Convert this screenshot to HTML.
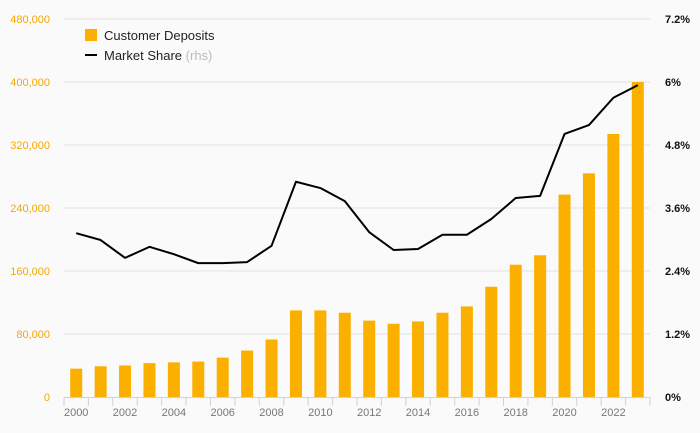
<!DOCTYPE html>
<html><head><meta charset="utf-8"><style>
body{margin:0;background:#fafafa;}
svg{display:block;font-family:"Liberation Sans",sans-serif;}
</style></head><body>
<svg id="chart" width="700" height="433">
<rect width="700" height="433" fill="#fafafa"/>
<g id="grid"></g><g id="bars"></g><g id="line"></g><g id="axes"></g>
<g>
<rect x="85" y="29" width="12" height="12" fill="#fbb000"/>
<text x="104" y="40" font-size="13" fill="#222">Customer Deposits</text>
<line x1="85" y1="55" x2="97" y2="55" stroke="#000" stroke-width="2"/>
<text x="104" y="60" font-size="13" fill="#222">Market Share <tspan fill="#bbb">(rhs)</tspan></text>
</g>
</svg>
<script>
const years=[2000,2001,2002,2003,2004,2005,2006,2007,2008,2009,2010,2011,2012,2013,2014,2015,2016,2017,2018,2019,2020,2021,2022,2023];
const deposits=[36000,39000,40000,43000,44000,45000,50000,59000,73000,110000,110000,107000,97000,93000,96000,107000,115000,140000,168000,180000,257000,284000,334000,400000];
const share=[3.12,2.99,2.65,2.86,2.72,2.55,2.55,2.57,2.88,4.10,3.98,3.73,3.14,2.80,2.82,3.09,3.09,3.39,3.79,3.83,5.01,5.18,5.70,5.94];
const leftTicks=[0,80000,160000,240000,320000,400000,480000];
const rightTicks=[0,1.2,2.4,3.6,4.8,6,7.2];
const NS="http://www.w3.org/2000/svg";
const X0=64,X1=650,Y0=397,Y1=19;
const step=(X1-X0)/years.length;
const xc=i=>X0+step*(i+0.5);
const yL=v=>Y0-(v/480000)*(Y0-Y1);
const yR=v=>Y0-(v/7.2)*(Y0-Y1);
function mk(t,a,p){const e=document.createElementNS(NS,t);for(const k in a)e.setAttribute(k,a[k]);document.getElementById(p).appendChild(e);return e;}
leftTicks.forEach((v,i)=>{
 if(v>0){const g=mk('line',{x1:X0,x2:X1,y1:yL(v),y2:yL(v),stroke:'#e3e3e3','stroke-width':1},'grid');
 
 }
 const t=mk('text',{x:50,y:yL(v)+4,'text-anchor':'end','font-size':11,fill:'#f5a800'},'axes');t.textContent=v.toLocaleString('en-US');
 
 
});
rightTicks.forEach(v=>{
 const t=mk('text',{x:665,y:yR(v)+4,'font-size':11,fill:'#111','font-weight':'bold'},'axes');t.textContent=String(v)+'%';
 
 
});
deposits.forEach((v,i)=>{
 const r=mk('rect',{x:xc(i)-6,y:yL(v),width:12,height:Y0-yL(v),fill:'#fbb000'},'bars');
 
 
});
const ln=mk('polyline',{points:share.map((v,i)=>xc(i)+','+yR(v)).join(' '),fill:'none',stroke:'#000','stroke-width':2,'stroke-linejoin':'round'},'line');


const ax=mk('line',{x1:X0,x2:X1,y1:Y0+0.5,y2:Y0+0.5,stroke:'#c8d4e6','stroke-width':1},'axes');


for(let i=0;i<=years.length;i++){
 const tk=mk('line',{x1:X0+step*i,x2:X0+step*i,y1:Y0,y2:Y0+9,stroke:'#c8d4e6'},'axes');
 
 
}
years.forEach((y,i)=>{if(i%2==0){
 const t=mk('text',{x:xc(i),y:Y0+19,'text-anchor':'middle','font-size':11,fill:'#777'},'axes');t.textContent=y;
 
 
}});
</script>
</body></html>
